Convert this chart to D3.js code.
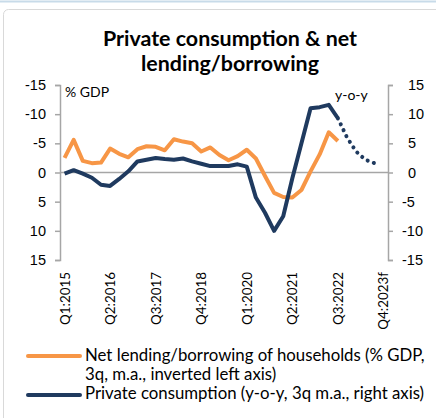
<!DOCTYPE html>
<html>
<head>
<meta charset="utf-8">
<script src="https://cdn.jsdelivr.net/npm/d3@7"></script>
<style>
  body { margin: 0; background: #fff; }
  svg { display: block; font-family: Lato, "Open Sans", sans-serif; }
</style>
</head>
<body>
<svg id="chart" width="436" height="418"></svg>
<script>
// quarters on the x axis
const categories = [
  "Q1:2015", "Q2:2015", "Q3:2015", "Q4:2015",
  "Q1:2016", "Q2:2016", "Q3:2016", "Q4:2016",
  "Q1:2017", "Q2:2017", "Q3:2017", "Q4:2017",
  "Q1:2018", "Q2:2018", "Q3:2018", "Q4:2018",
  "Q1:2019", "Q2:2019", "Q3:2019", "Q4:2019",
  "Q1:2020", "Q2:2020", "Q3:2020", "Q4:2020",
  "Q1:2021", "Q2:2021", "Q3:2021", "Q4:2021",
  "Q1:2022", "Q2:2022", "Q3:2022", "Q4:2022",
  "Q1:2023f", "Q2:2023f", "Q3:2023f", "Q4:2023f",
];
const tickLabels = ["Q1:2015", "Q2:2016", "Q3:2017", "Q4:2018", "Q1:2020", "Q2:2021", "Q3:2022", "Q4:2023f"];
const yTicks = [-15, -10, -5, 0, 5, 10, 15];

// net lending/borrowing, % GDP (left axis, inverted)
const lending = [
  -2.5, -5.6, -2.0, -1.6, -1.7, -4.1, -3.2, -2.6, -4.0, -4.5, -4.4, -3.8,
  -5.7, -5.3, -5.0, -3.6, -4.3, -3.0, -2.1, -2.8, -3.9, -2.4, 0.6, 3.5,
  4.2, 4.3, 3.0, -0.2, -3.1, -6.9, -5.4,
];
// private consumption y-o-y (right axis)
const consumption = [
  -0.2, 0.4, -0.2, -0.9, -2.1, -2.3, -1.1, 0.2, 1.9, 2.2, 2.5, 2.3,
  2.2, 2.4, 1.9, 1.5, 1.1, 1.1, 1.1, 1.4, 1.0, -4.3, -6.9, -10.0,
  -7.5, -1.0, 5.0, 11.0, 11.2, 11.6, 9.3,
];
// forecast, starts at Q3:2022
const forecastStart = 30;
const forecast = [9.3, 6.0, 3.6, 2.2, 1.6];

const orange = "#f79646";
const navy = "#1f3a5f";
const grey = "#a6a6a6";

const svg = d3.select("#chart");

// scale a text's font so that one of its lines gets a given width
const fitFont = (sel, lineSel, width) => {
  const w = lineSel.node().getComputedTextLength();
  const size = parseFloat(sel.attr("font-size"));
  sel.attr("font-size", (size * width / w).toFixed(2));
};

// frame
svg.append("line").attr("x1", 0).attr("x2", 436).attr("y1", 1.5).attr("y2", 1.5)
  .attr("stroke", "#c8dbe9").attr("stroke-width", 2);
svg.append("rect").attr("x", 3.5).attr("y", 9.5).attr("width", 480).attr("height", 460)
  .attr("rx", 5).attr("fill", "none").attr("stroke", "#d9d9d9");

const x = d3.scalePoint().domain(categories).range([60, 388]).padding(0.5);
const yL = d3.scaleLinear().domain([-15, 15]).range([85, 260]);
const yR = d3.scaleLinear().domain([-15, 15]).range([260, 85]);

// title
const title = svg.append("text").attr("text-anchor", "middle")
  .attr("font-weight", "bold").attr("font-size", 20).attr("fill", "#000");
title.append("tspan").attr("x", 230).attr("y", 46).text("Private consumption & net");
const title2 = title.append("tspan").attr("x", 230).attr("y", 71).text("lending/borrowing");
fitFont(title, title2, 178);

// zero line
svg.append("line").attr("x1", 60).attr("x2", 388)
  .attr("y1", yL(0)).attr("y2", yL(0)).attr("stroke", grey).attr("stroke-width", 1.5);

// axes
const fmt = (d) => String(d);
const axisL = svg.append("g").attr("transform", "translate(60,0)")
  .call(d3.axisLeft(yL).tickValues(yTicks).tickSize(5).tickPadding(9).tickFormat(fmt));
const axisR = svg.append("g").attr("transform", "translate(388,0)")
  .call(d3.axisRight(yR).tickValues(yTicks).tickSize(5).tickPadding(15).tickFormat(fmt));
[axisL, axisR].forEach((g) => {
  g.select(".domain").attr("stroke", grey).attr("stroke-width", 1.5);
  g.selectAll(".tick line").attr("stroke", grey).attr("stroke-width", 1.5);
  g.selectAll(".tick text").attr("font-size", 14.5).attr("fill", "#000").attr("font-family", null);
});
axisR.selectAll(".tick text").attr("dx", (d) => (d < 0 ? -6 : 0));

// unit labels
svg.append("text").attr("x", 65).attr("y", 97).attr("font-size", 14).text("% GDP");
svg.append("text").attr("x", 335).attr("y", 100).attr("font-size", 14).text("y-o-y");

// x labels
const xLabels = svg.append("g").attr("font-size", 14);
xLabels.selectAll("text").data(tickLabels).enter().append("text")
  .attr("transform", (d) => `translate(${x(d) + 5},272) rotate(-90)`)
  .attr("text-anchor", "end").text((d) => d);
fitFont(xLabels, xLabels.select("text"), 53);

// lines
const lineL = d3.line().x((d, i) => x(categories[i])).y((d) => yL(d));
const lineR = d3.line().x((d, i) => x(categories[i])).y((d) => yR(d));
const lineF = d3.line().x((d, i) => x(categories[i + forecastStart])).y((d) => yR(d));

svg.append("path").datum(lending).attr("d", lineL).attr("fill", "none")
  .attr("stroke", orange).attr("stroke-width", 4).attr("stroke-linejoin", "round");
svg.append("path").datum(consumption).attr("d", lineR).attr("fill", "none")
  .attr("stroke", navy).attr("stroke-width", 4).attr("stroke-linejoin", "round");
svg.append("path").datum(forecast).attr("d", lineF).attr("fill", "none")
  .attr("stroke", navy).attr("stroke-width", 4).attr("stroke-linecap", "round")
  .attr("stroke-dasharray", "0.1,6.5");

// legend
const legend = svg.append("g");
legend.append("line").attr("x1", 28).attr("x2", 80).attr("y1", 356).attr("y2", 356)
  .attr("stroke", orange).attr("stroke-width", 4).attr("stroke-linecap", "round");
legend.append("line").attr("x1", 28).attr("x2", 80).attr("y1", 395).attr("y2", 395)
  .attr("stroke", navy).attr("stroke-width", 4).attr("stroke-linecap", "round");
const legText = legend.append("text").attr("font-size", 16);
const leg1 = legText.append("tspan").attr("x", 85).attr("y", 361).text("Net lending/borrowing of households (% GDP,");
legText.append("tspan").attr("x", 85).attr("y", 380).text("3q, m.a., inverted left axis)");
legText.append("tspan").attr("x", 85).attr("y", 399).text("Private consumption (y-o-y, 3q m.a., right axis)");
fitFont(legText, leg1, 340);
</script>
</body>
</html>
